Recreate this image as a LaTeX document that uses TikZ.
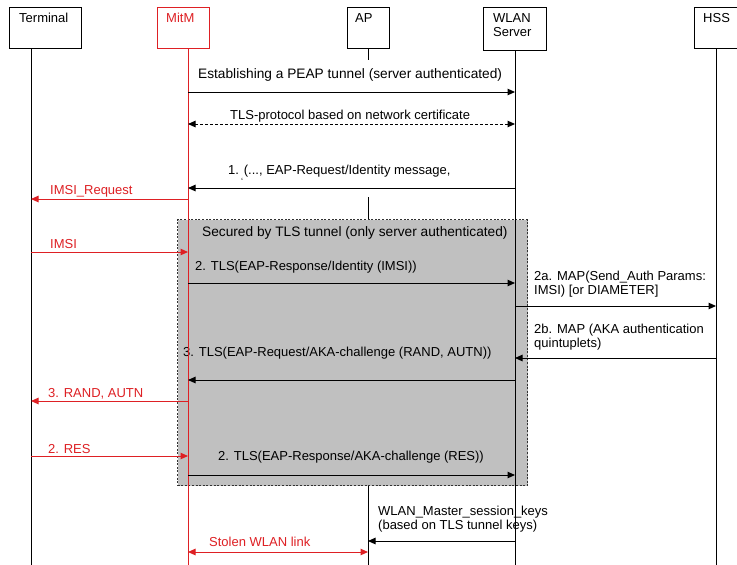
\documentclass[tikz,border=0pt]{standalone}
\usepackage{fontspec}
\setmainfont{Liberation Sans}
\usetikzlibrary{arrows.meta}

\definecolor{mitmred}{RGB}{222,32,36}
\definecolor{tunnelgray}{RGB}{192,192,192}
\definecolor{tunneledge}{RGB}{50,50,50}

\tikzset{
  actor/.style={draw=black, line width=1.3pt, fill=white, anchor=north west, inner sep=0pt},
  redactor/.style={actor, draw=mitmred},
  actorname/.style={anchor=north west, inner sep=0pt, align=left, font=\fontsize{13}{14.5}\selectfont},
  lifeline/.style={line width=1pt, draw=black},
  redline/.style={line width=1pt, draw=mitmred},
  tunnelbox/.style={fill=tunnelgray, draw=tunneledge, line width=1.2pt,
    dash pattern=on 2pt off 1.6pt, anchor=north west, inner sep=0pt},
  msg/.style={line width=1pt, -{Triangle[length=7.5pt,width=6.5pt]}},
  bimsg/.style={line width=1pt, {Triangle[length=7.5pt,width=6.5pt]}-{Triangle[length=7.5pt,width=6.5pt]}},
  redmsg/.style={msg, draw=mitmred, -{Triangle[length=7.5pt,width=6.5pt,fill=mitmred]}},
  redbimsg/.style={line width=1pt, draw=mitmred,
    {Triangle[length=7.5pt,width=6.5pt,fill=mitmred]}-{Triangle[length=7.5pt,width=6.5pt,fill=mitmred]}},
  lbl/.style={anchor=west, inner sep=0pt, align=left, font=\fontsize{13}{14.5}\selectfont},
  widelbl/.style={lbl, font=\fontsize{13.7}{15}\selectfont},
  redlbl/.style={lbl, text=mitmred},
}

\begin{document}
\begin{tikzpicture}[x=1pt, y=-1pt]
\useasboundingbox (0,0) rectangle (737,565);
\clip (0,0) rectangle (737,565);
\fill[white] (0,0) rectangle (737,565);

% Participants
\node[actor, minimum width=72pt, minimum height=41pt] (term) at (9,7) {};
\node[redactor, minimum width=52pt, minimum height=41pt] (mitm) at (157,7) {};
\node[actor, minimum width=42pt, minimum height=41pt] (ap) at (347,7) {};
\node[actor, minimum width=63pt, minimum height=43pt] (wlan) at (483,7) {};
\node[actor, minimum width=60pt, minimum height=41pt] (hss) at (694,7) {};

\node[actorname] (termname) at (19,13) {Terminal};
\node[actorname, text=mitmred] (mitmname) at (166,13) {MitM};
\node[actorname] (apname) at (355,13) {AP};
\node[actorname] (wlanname) at (493,13) {WLAN\\Server};
\node[actorname] (hssname) at (703,13) {HSS};

% Lifeline anchors
\coordinate (T) at (31,48);
\coordinate (M) at (188,48);
\coordinate (A) at (368,48);
\coordinate (W) at (515,50);
\coordinate (H) at (716,48);
\coordinate (bottom) at (0,565);

% Area protected by the TLS tunnel
\node[tunnelbox, minimum width=350pt, minimum height=266pt] (tunnel) at (177,219) {};

% Message labels
\node[widelbl] (l1) at (198,75) {Establishing a PEAP tunnel (server authenticated)};
\node[lbl] (l2) at (230,116) {TLS-protocol based on network certificate};
\node[lbl] (l3) at (228,171) {1. (..., EAP-Request/Identity message,};
\node[lbl, font=\fontsize{9}{9}\selectfont] (l3tick) at (241,181) {`};
\node[redlbl] (r1) at (50,191) {IMSI\_Request};
\node[widelbl] (l4) at (202,233) {Secured by TLS tunnel (only server authenticated)};
\node[redlbl] (r2) at (50,244) {IMSI};
\node[lbl] (l5) at (195,267) {2. TLS(EAP-Response/Identity (IMSI))};
\node[lbl] (l6) at (534,284) {2a. MAP(Send\_Auth Params:\\IMSI) [or DIAMETER]};
\node[lbl] (l7) at (534,337) {2b. MAP (AKA authentication\\quintuplets)};
\node[lbl] (l8) at (183,353) {3. TLS(EAP-Request/AKA-challenge (RAND, AUTN))};
\node[redlbl] (r3) at (48,394) {3. RAND, AUTN};
\node[redlbl] (r4) at (48,449) {2. RES};
\node[lbl] (l9) at (218,457) {2. TLS(EAP-Response/AKA-challenge (RES))};
\node[lbl] (l10) at (378,519) {WLAN\_Master\_session\_keys\\(based on TLS tunnel keys)};
\node[redlbl] (r5) at (209,542) {Stolen WLAN link};

% Lifelines
\draw[lifeline] (T) -- (T |- bottom);
\draw[lifeline] (W) -- (W |- bottom);
\draw[lifeline] (H) -- (H |- bottom);
\draw[lifeline] (A) -- (A |- 0,60);
\draw[lifeline] (A |- 0,197) -- (A |- tunnel.north);
\draw[lifeline] (A |- tunnel.south) -- (A |- bottom);
\draw[redline] (M) -- (M |- bottom);

% Messages
\draw[msg] (M |- 0,92) -- (W |- 0,92);
\draw[bimsg, dash pattern=on 3pt off 2pt] (M |- 0,124) -- (W |- 0,124);
\draw[msg] (W |- 0,188) -- (M |- 0,188);
\draw[redmsg] (M |- 0,199) -- (T |- 0,199);
\draw[redmsg] (T |- 0,252) -- (M |- 0,252);
\draw[msg] (M |- 0,283) -- (W |- 0,283);
\draw[msg] (W |- 0,306) -- (H |- 0,306);
\draw[msg] (H |- 0,358) -- (W |- 0,358);
\draw[msg] (W |- 0,380) -- (M |- 0,380);
\draw[redmsg] (M |- 0,401) -- (T |- 0,401);
\draw[redmsg] (T |- 0,456) -- (M |- 0,456);
\draw[msg] (M |- 0,475) -- (W |- 0,475);
\draw[msg] (W |- 0,541) -- (A |- 0,541);
\draw[redbimsg] (M |- 0,552) -- (A |- 0,552);
\end{tikzpicture}
\end{document}
